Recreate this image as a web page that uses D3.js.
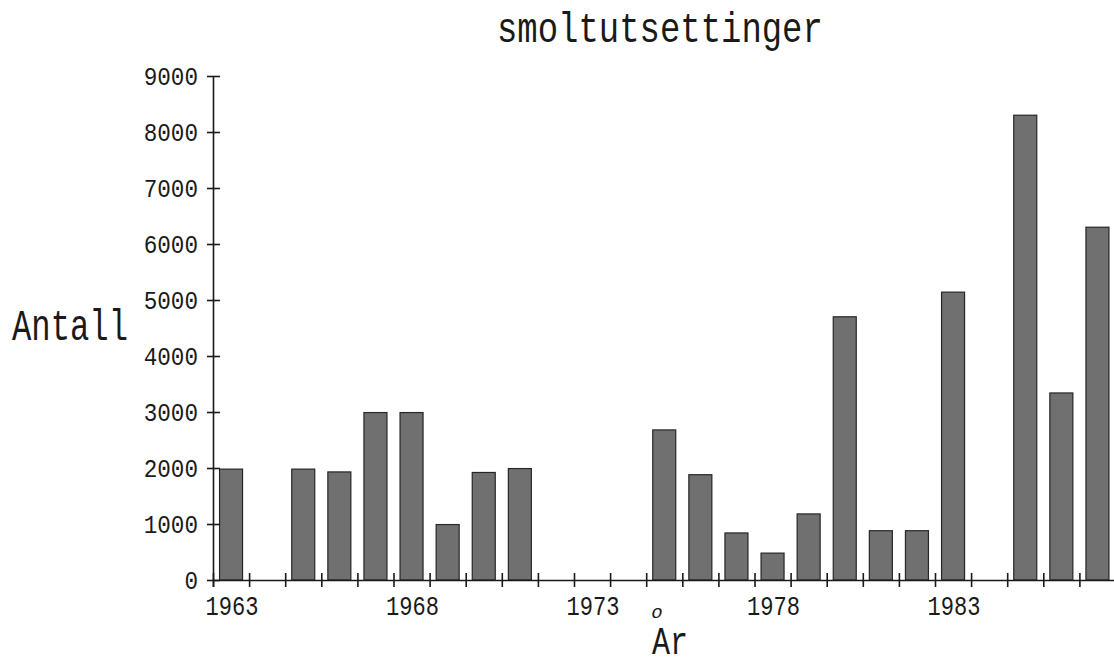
<!DOCTYPE html>
<html>
<head>
<meta charset="utf-8">
<script src="https://cdn.jsdelivr.net/npm/d3@7"></script>
<style>
  html, body { margin: 0; padding: 0; background: #fff; }
  svg { display: block; }
  text { font-family: "Liberation Mono", "DejaVu Sans Mono", monospace; fill: #1a1a1a; }
</style>
</head>
<body>
<svg id="chart" width="1114" height="666"></svg>
<script>
// ---- data ----
const years = d3.range(1963, 1988);            // 1963 … 1987
const values = [
  1980, 0, 1980, 1930, 2990, 2990, 990, 1920, 1990, 0,
  0, 0, 2680, 1880, 840, 480, 1180, 4700, 880, 880,
  5140, 0, 8300, 3340, 6300
];
const yTickValues = [0, 1000, 2000, 3000, 4000, 5000, 6000, 7000, 8000, 9000];
const xLabelYears = [1963, 1968, 1973, 1978, 1983];
const titleText = "smoltutsettinger";
const yTitle = "Antall";
const xTitle = "Ar";
const xTitleRing = "o";

// ---- layout ----
const svg = d3.select("#chart");
const x0 = 213, step = 36.1, y0 = 580, yTop = 76;
const barW = 23;

const xb = d3.scaleLinear().domain([1963, 1988]).range([x0, x0 + 25 * step]);
const xBand = d3.scaleBand().domain(years).range([x0, x0 + 25 * step]).padding(0);
const y = d3.scaleLinear().domain([0, 9000]).range([y0, yTop]);

const ink = "#1a1a1a";

// horizontally compress a text (anchored at x,y) to a target width
function narrowText(parent, str, x, y, size, width, anchor) {
  const g = parent.append("g").attr("transform", `translate(${x},${y})`);
  const t = g.append("text").attr("font-size", size).attr("text-anchor", anchor || "start").text(str);
  const natural = t.node().getComputedTextLength();
  t.attr("transform", `scale(${width / natural},1)`);
  return t;
}

// bars
const data = years.map((yr, i) => ({ yr, v: values[i] })).filter(d => d.v > 0);
svg.append("g").selectAll("rect").data(data).join("rect")
  .attr("x", d => xBand(d.yr) + (xBand.bandwidth() - barW) / 2)
  .attr("width", barW)
  .attr("y", d => y(d.v))
  .attr("height", d => y(0) - y(d.v))
  .attr("fill", "#707070")
  .attr("stroke", "#262626")
  .attr("stroke-width", 1.2);

// y axis
const yAxis = svg.append("g").attr("transform", `translate(${x0},0)`)
  .call(d3.axisLeft(y).tickValues(yTickValues).tickFormat("")
    .tickSizeOuter(0).tickSizeInner(6));
yAxis.select(".domain").attr("stroke", ink).attr("stroke-width", 1.6);
yAxis.selectAll(".tick line").attr("x1", -6).attr("x2", 7).attr("stroke", ink).attr("stroke-width", 1.6);
const yLabG = svg.append("g");
yTickValues.forEach(v => {
  const s = d3.format("d")(v);
  narrowText(yLabG, s, x0 - 15, y(v) + 8.6, 26, s.length * 13.6, "end");
});

// x axis (tick marks at year boundaries, crossing the line)
const xAxis = svg.append("g").attr("transform", `translate(0,${y0})`)
  .call(d3.axisBottom(xb).tickValues(d3.range(1963, 1988)).tickSizeOuter(0).tickSize(7).tickFormat(""));
xAxis.select(".domain").attr("stroke", ink).attr("stroke-width", 1.6);
xAxis.selectAll(".tick line").attr("y1", -7).attr("y2", 7).attr("stroke", ink).attr("stroke-width", 1.6);

// x labels (centered in year bands)
const xLabG = svg.append("g");
xLabelYears.forEach(yr => {
  narrowText(xLabG, d3.format("d")(yr), xBand(yr) + xBand.bandwidth() / 2 + 1, y0 + 35, 27, 53, "middle");
});

// title
narrowText(svg, titleText, 497, 42, 42, 326, "start");

// y title
narrowText(svg, yTitle, 12, 340, 45, 116, "start");

// x title with detached ring
narrowText(svg, xTitle, 652, 654, 38, 36, "start");
svg.append("text")
  .attr("x", 657).attr("y", 618)
  .attr("text-anchor", "middle")
  .attr("font-size", 19)
  .attr("font-style", "italic")
  .text(xTitleRing);
</script>
</body>
</html>
